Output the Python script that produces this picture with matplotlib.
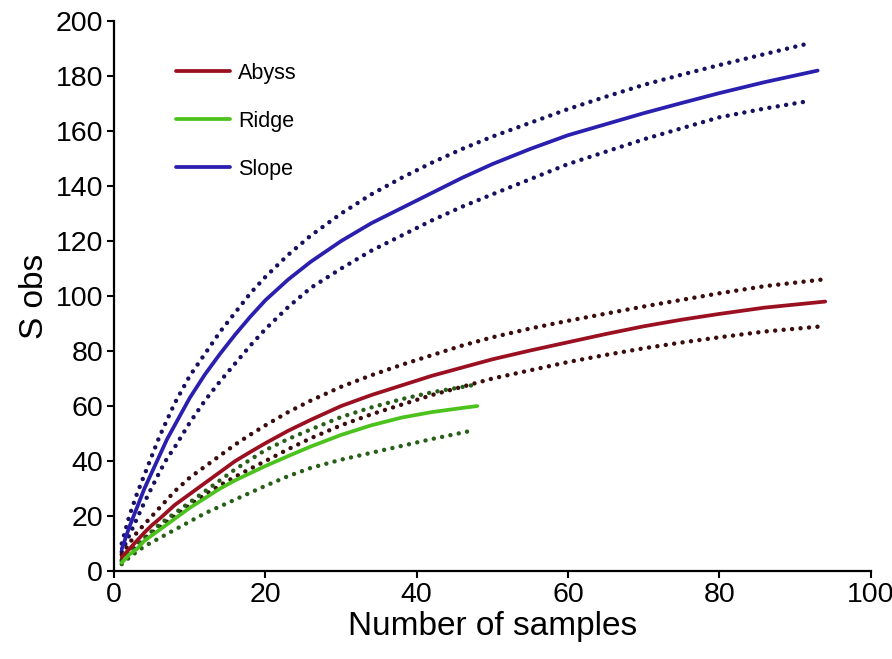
import matplotlib
matplotlib.use("Agg")
import matplotlib.pyplot as plt

plt.rcParams['font.family'] = ['Liberation Sans', 'DejaVu Sans']

# sample-based rarefaction curves
x_pts = [1, 1.5, 2, 3, 4, 5, 6, 7, 8, 10, 12, 14, 16, 18, 20, 23, 26, 30,
         34, 38, 42, 46, 50, 55, 60, 65, 70, 75, 80, 86]

slope_x = x_pts + [93]
slope_mean = [8, 12, 16, 23, 30, 36, 42, 48, 53, 63, 71.5, 79, 86, 92.5, 98.5, 106, 112.5, 120,
              126.5, 132, 137.5, 143, 148, 153.5, 158.5, 162.5, 166.5, 170.2, 173.8, 177.8, 182]
slope_ci_x = x_pts + [92]
slope_upper = [10, 15, 20, 28, 35, 42, 49, 55, 61, 71, 79, 87, 94, 101, 107, 115, 122, 130,
               137, 143, 148.5, 153.5, 158, 163, 168, 172.5, 176.8, 180.5, 184, 188, 192]
slope_lower = [7, 10, 13, 19, 25, 30.5, 36, 41, 45, 54, 62, 69, 75.5, 82, 88, 96, 103, 110,
               116.5, 122, 127.5, 132.5, 137, 142.5, 148, 152.5, 157, 161, 165, 168.2, 171]

abyss_x = x_pts + [94]
abyss_mean = [5, 6.5, 8, 11, 14, 16.7, 19, 21.5, 24, 28, 32, 36, 40, 43.3, 46.5, 51, 55, 60,
              64, 67.5, 71, 74, 77, 80.2, 83.2, 86.2, 89, 91.4, 93.5, 95.8, 98]
abyss_ci_x = x_pts + [93.6]
abyss_upper = [6, 8, 10, 14, 17, 20, 23, 26, 29, 34, 38, 42, 46, 49.6, 53, 57.8, 62, 67,
               71.2, 75, 78.5, 82, 85, 88.2, 91, 93.6, 96.2, 98.6, 101, 103.6, 106]
abyss_lower = [4, 5.5, 7, 9, 12, 14, 16, 18, 20, 24, 27.8, 31.2, 34.3, 37.2, 40, 44.3, 48.3, 53,
               57, 60.5, 64, 67, 70, 73, 76, 78.6, 81, 83.1, 85, 87.1, 89]

ridge_pts = [1, 1.5, 2, 3, 4, 5, 6, 7, 8, 10, 12, 14, 16, 18, 20, 23, 26, 30, 34, 38, 42]
ridge_x = ridge_pts + [46, 48]
ridge_mean = [3, 4.5, 6, 8, 11, 13, 15, 17, 19, 23, 26.5, 30, 33, 35.6, 38.2, 41.8, 45.3, 49.5,
              53, 55.8, 57.8, 59.3, 60]
ridge_ci_x = ridge_pts + [47.2]
ridge_upper = [3.5, 5, 7, 10, 12, 14.5, 17, 19, 21, 25, 29, 33, 37, 40.5, 44, 48, 51.5, 56,
               59.5, 62.5, 65, 67.5]
ridge_lower = [2.5, 3.5, 5, 7, 9, 10.5, 12, 13.5, 15, 18, 21, 23.5, 26, 28.5, 31, 34.5, 37.5,
               40.5, 43, 45.5, 48, 51]

fig = plt.figure(figsize=(8.92, 6.59), dpi=100)
ax = fig.add_axes([0.128, 0.1335, 0.848, 0.8345])

dots = dict(linestyle=(0, (0.01, 1.9)), lw=3.2, dash_capstyle='round')

ax.plot(slope_ci_x, slope_upper, color='#16105e', **dots)
ax.plot(slope_ci_x, slope_lower, color='#16105e', **dots)
ax.plot(abyss_ci_x, abyss_upper, color='#3a0c0c', **dots)
ax.plot(abyss_ci_x, abyss_lower, color='#3a0c0c', **dots)
ax.plot(ridge_ci_x, ridge_upper, color='#275e18', **dots)
ax.plot(ridge_ci_x, ridge_lower, color='#275e18', **dots)

ax.plot(abyss_x, abyss_mean, color='#9a1020', lw=2.7, label='Abyss', solid_capstyle='round')
ax.plot(ridge_x, ridge_mean, color='#4cc21c', lw=2.7, label='Ridge', solid_capstyle='round')
ax.plot(slope_x, slope_mean, color='#2a1fae', lw=2.7, label='Slope', solid_capstyle='round')

ax.set_xlim(0, 100)
ax.set_ylim(0, 200)
ax.set_xticks(range(0, 101, 20))
ax.set_yticks(range(0, 201, 20))
ax.spines['top'].set_visible(False)
ax.spines['right'].set_visible(False)
for s in ['left', 'bottom']:
    ax.spines[s].set_linewidth(1.6)
ax.tick_params(direction='out', length=5, width=1.5, labelsize=20.5, pad=3)

ax.set_xlabel('Number of samples', fontsize=24, labelpad=2)
ax.set_ylabel('S obs', fontsize=24, labelpad=4)

ax.legend(loc='upper left', bbox_to_anchor=(176 / 892, 1 - 63 / 659),
          bbox_transform=fig.transFigure, frameon=False, fontsize=15.5,
          handlelength=2.5, handletextpad=0.4, labelspacing=1.25,
          borderpad=0, borderaxespad=0)

fig.savefig('out.png', dpi=100)
